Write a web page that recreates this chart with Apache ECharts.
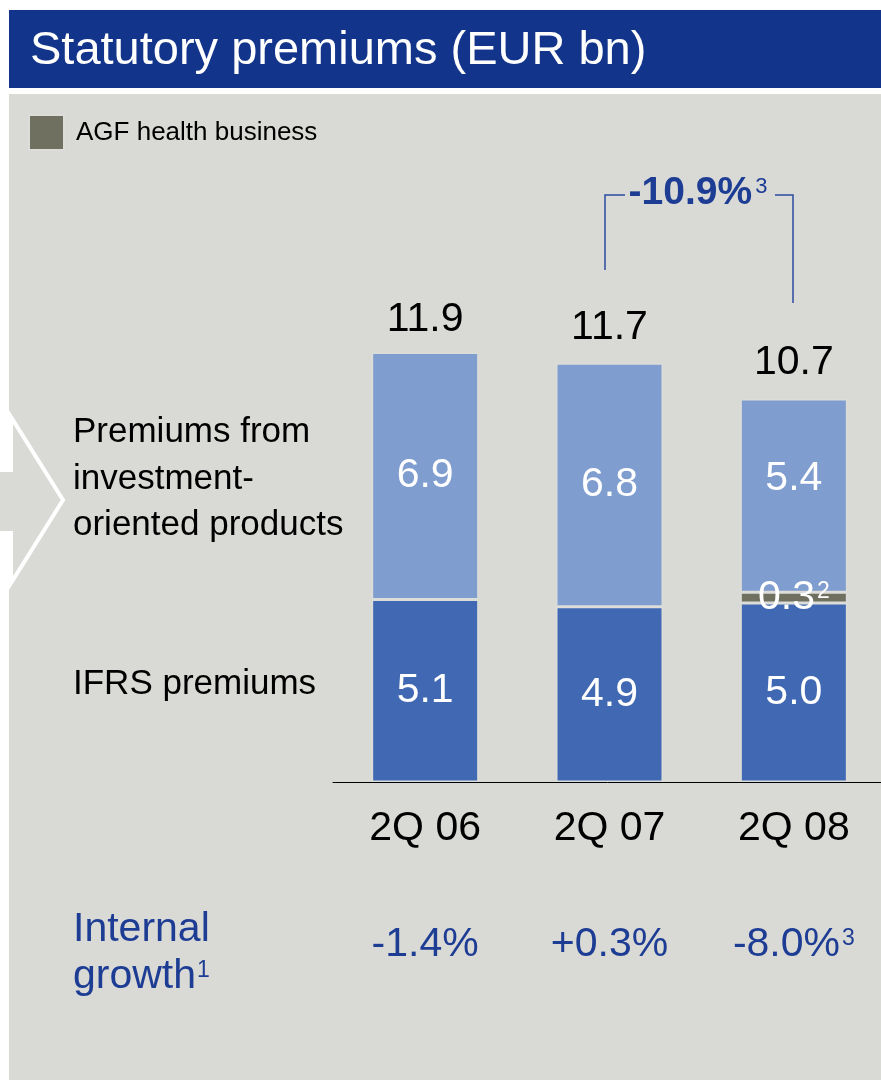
<!DOCTYPE html>
<html>
<head>
<meta charset="utf-8">
<script src="https://cdn.jsdelivr.net/npm/echarts@6/dist/echarts.min.js"></script>
<style>
  html, body { margin: 0; padding: 0; background: #fff; }
  #main { width: 881px; height: 1080px; }
</style>
</head>
<body>
<div id="main"></div>
<script>
// data
var categories = ['2Q 06', '2Q 07', '2Q 08'];
var ifrs = [5.1, 4.9, 5.0];
var agf = [0, 0, 0.3];
var invest = [6.9, 6.8, 5.4];
var totals = [11.9, 11.7, 10.7];
var growth = ['-1.4%', '+0.3%', '-8.0%'];
var growthNote = ['', '', '3'];
var bracketText = '-10.9%';

var FONT = '"Liberation Sans", Arial, sans-serif';
var BG = '#d9d9d5';
var BLUE_TXT = '#1d3c94';
var FS = 41;

var chart = echarts.init(document.getElementById('main'));

var border = { borderColor: '#dcddd9', borderWidth: 1.5 };
var supRich = function (color) {
  return {
    v: { fontSize: FS, lineHeight: 42, color: color, fontFamily: FONT },
    s: { fontSize: 23, lineHeight: 23, verticalAlign: 'top', color: color, fontFamily: FONT, padding: [3, 0, 0, 2] }
  };
};

option = {
  animation: false,
  textStyle: { fontFamily: FONT },
  legend: {
    data: ['AGF health business'],
    left: 28,
    top: 114,
    padding: 0,
    icon: 'rect',
    itemWidth: 35,
    itemHeight: 35,
    selectedMode: false,
    textStyle: { fontSize: 26, color: '#000', fontFamily: FONT, padding: [0, 0, 0, 7] }
  },
  grid: { left: 333, width: 553, top: 281, bottom: 298, outerBoundsMode: 'none' },
  xAxis: [
    {
      type: 'category',
      data: categories,
      axisLine: { lineStyle: { color: '#000', width: 1 } },
      axisTick: { show: false },
      axisLabel: { fontSize: FS, color: '#000', margin: 26, lineHeight: 42, fontFamily: FONT }
    },
    {
      type: 'category',
      data: categories,
      position: 'bottom',
      axisLine: { show: false },
      axisTick: { show: false },
      axisLabel: {
        margin: 142,
        formatter: function (v, i) {
          return '{v|' + growth[i] + '}' + (growthNote[i] ? '{s|' + growthNote[i] + '}' : '');
        },
        rich: supRich(BLUE_TXT)
      }
    }
  ],
  yAxis: { type: 'value', min: 0, max: 14, show: false },
  series: [
    {
      name: 'IFRS premiums',
      type: 'bar',
      stack: 'p',
      barWidth: 107,
      data: ifrs,
      itemStyle: Object.assign({ color: '#4169b3' }, border),
      label: {
        show: true, position: 'inside', color: '#fff', fontSize: FS, fontFamily: FONT,
        formatter: function (p) { return p.value.toFixed(1); }
      }
    },
    {
      name: 'AGF health business',
      type: 'bar',
      stack: 'p',
      barWidth: 107,
      data: agf,
      itemStyle: Object.assign({ color: '#6f705f' }, border),
      label: {
        show: true, position: 'inside',
        formatter: function (p) { return p.value ? '{v|' + p.value.toFixed(1) + '}{s|2}' : ''; },
        rich: supRich('#fff')
      }
    },
    {
      name: 'Premiums from investment-oriented products',
      type: 'bar',
      stack: 'p',
      barWidth: 107,
      data: invest.map(function (v, i) {
        return i === 2 ? { value: v, label: { offset: [0, -17] } } : v;
      }),
      itemStyle: Object.assign({ color: '#7f9dce' }, border),
      label: {
        show: true, position: 'inside', color: '#fff', fontSize: FS, fontFamily: FONT,
        formatter: function (p) { return p.value.toFixed(1); }
      }
    },
    {
      name: 'total',
      type: 'scatter',
      data: totals,
      symbolSize: 1,
      itemStyle: { color: 'rgba(0,0,0,0)', opacity: 1 },
      label: {
        show: true, position: 'top', distance: 15, color: '#000', fontSize: FS, fontFamily: FONT,
        formatter: function (p) { return p.value.toFixed(1); }
      }
    }
  ],
  graphic: [
    { type: 'rect', z: -10, shape: { x: 9, y: 94, width: 872, height: 986 }, style: { fill: BG } },
    { type: 'rect', z: -10, shape: { x: 9, y: 10, width: 872, height: 78 }, style: { fill: '#12348a' } },
    {
      type: 'text', x: 30, y: 51,
      style: { text: 'Statutory premiums (EUR bn)', font: '47px ' + FONT, fill: '#fff', verticalAlign: 'middle' }
    },
    {
      type: 'polygon', z: -5,
      shape: { points: [[-10, 470], [11, 470], [11, 417], [63, 500], [11, 583], [11, 533], [-10, 533]] },
      style: { fill: BG, stroke: '#fff', lineWidth: 4 }
    },
    {
      type: 'text', x: 73, y: 479,
      style: {
        text: 'Premiums from\ninvestment-\noriented products', font: '35px ' + FONT, fill: '#000',
        lineHeight: 46.5, verticalAlign: 'middle'
      }
    },
    {
      type: 'text', x: 73, y: 684,
      style: { text: 'IFRS premiums', font: '35px ' + FONT, fill: '#000', verticalAlign: 'middle' }
    },
    {
      type: 'text', x: 73, y: 953,
      style: {
        text: '{v|Internal}\n{v|growth}{s|1}', verticalAlign: 'middle',
        rich: {
          v: { font: FS + 'px ' + FONT, lineHeight: 47, fill: BLUE_TXT },
          s: { font: '23px ' + FONT, lineHeight: 23, verticalAlign: 'top', fill: BLUE_TXT, padding: [6, 0, 0, 1] }
        }
      }
    },
    {
      type: 'polyline',
      shape: { points: [[605, 270], [605, 195], [625, 195]] },
      style: { stroke: '#2b4ba0', lineWidth: 1.5, fill: null }
    },
    {
      type: 'polyline',
      shape: { points: [[775, 195], [793, 195], [793, 303]] },
      style: { stroke: '#2b4ba0', lineWidth: 1.5, fill: null }
    },
    {
      type: 'text', x: 698, y: 193,
      style: {
        text: '{b|' + bracketText + '}{s|3}', align: 'center', verticalAlign: 'middle',
        rich: {
          b: { font: 'bold 39px ' + FONT, lineHeight: 40, fill: BLUE_TXT },
          s: { font: '22px ' + FONT, lineHeight: 22, verticalAlign: 'top', fill: BLUE_TXT, padding: [3, 0, 0, 3] }
        }
      }
    }
  ]
};

chart.setOption(option);
</script>
</body>
</html>
